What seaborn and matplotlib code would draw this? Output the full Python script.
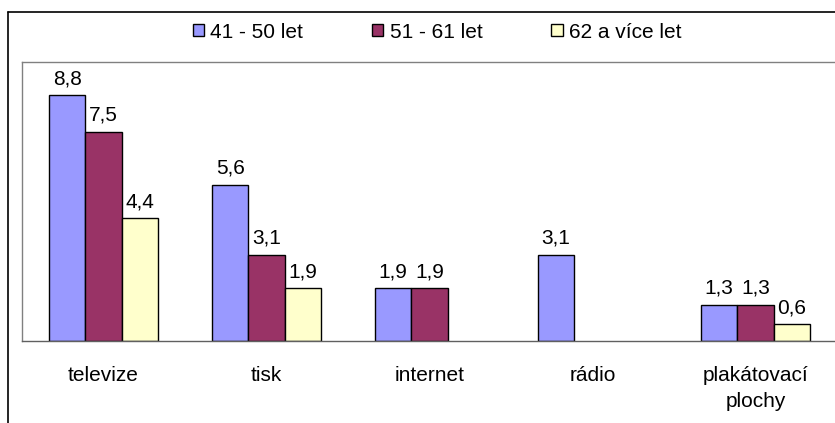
import matplotlib
matplotlib.use("Agg")
import matplotlib.pyplot as plt
from matplotlib.lines import Line2D
from matplotlib.patches import Patch
import numpy as np
import pandas as pd
import seaborn as sns

# Media categories and age groups
categories = ["televize", "tisk", "internet", "rádio", "plakátovací\nplochy"]
groups = ["41 - 50 let", "51 - 61 let", "62 a více let"]
vals_41_50 = [8.8, 5.6, 1.9, 3.1, 1.3]
vals_51_61 = [7.5, 3.1, 1.9, np.nan, 1.3]
vals_62_plus = [4.4, 1.9, np.nan, np.nan, 0.6]
colors = ["#9999FF", "#993366", "#FFFFCC"]

rows = []
for g, vals in zip(groups, [vals_41_50, vals_51_61, vals_62_plus]):
    for c, v in zip(categories, vals):
        if not np.isnan(v):
            rows.append({"kategorie": c, "skupina": g, "hodnota": v})
df = pd.DataFrame(rows)

sns.set_style("white")
plt.rcParams["font.family"] = ["Liberation Sans", "DejaVu Sans"]
plt.rcParams["text.color"] = "black"
plt.rcParams["xtick.color"] = "black"
FS = 15

fig = plt.figure(figsize=(8.35, 4.23), dpi=100)
W, H = 835, 423

# Outer chart frame (left and top edges)
fig.add_artist(Line2D([8 / W, 8 / W], [0, 1 - 12 / H], color="black", lw=1.2,
                      transform=fig.transFigure))
fig.add_artist(Line2D([8 / W, 1], [1 - 12 / H, 1 - 12 / H], color="black", lw=1.2,
                      transform=fig.transFigure))

ax = fig.add_axes([22 / W, 1 - 341 / H, (837 - 22) / W, (341 - 62) / H])
sns.barplot(data=df, x="kategorie", y="hodnota", hue="skupina",
            order=categories, hue_order=groups, palette=colors,
            width=0.67, gap=0, edgecolor="black", linewidth=1.0,
            saturation=1, errorbar=None, legend=False, ax=ax)

for cont in ax.containers:
    labels = [f"{v:.1f}".replace(".", ",") for v in cont.datavalues]
    ax.bar_label(cont, labels=labels, padding=5, fontsize=FS, color="black")

ax.set_xlim(-0.5, 4.5)
ax.set_ylim(0, 10)
ax.set_xlabel("")
ax.set_ylabel("")
ax.set_yticks([])
ax.set_xticks(range(len(categories)))
ax.set_xticklabels(categories, fontsize=FS, color="black", linespacing=1.45)
ax.tick_params(axis="x", which="major", length=0, pad=18)
ax.set_xticks(np.arange(-0.5, 5, 1), minor=True)
ax.tick_params(axis="x", which="minor", length=6, width=1, color="#808080",
               direction="out")
for side in ["left", "top", "bottom"]:
    ax.spines[side].set_color("#808080")
    ax.spines[side].set_linewidth(1.0)
ax.spines["bottom"].set_color("#606060")
ax.spines["right"].set_visible(False)

handles = [Patch(facecolor=c, edgecolor="black", linewidth=1.0) for c in colors]
fig.legend(handles, groups, loc="center", bbox_to_anchor=(437 / W, 1 - 32 / H),
           ncol=3, frameon=False, fontsize=FS, handlelength=0.55,
           handleheight=0.55, handletextpad=0.3, columnspacing=3.3)

fig.savefig("out.png", dpi=100)
